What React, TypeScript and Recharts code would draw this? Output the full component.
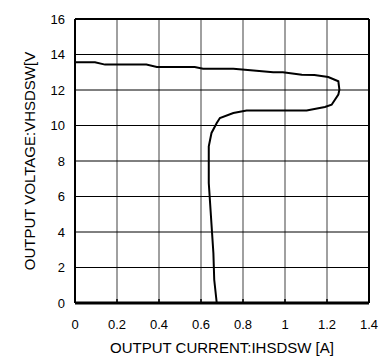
import { LineChart, Line, XAxis, YAxis, CartesianGrid, ReferenceLine } from 'recharts'

// output current [A] vs output voltage [V] in trace order
const currentA = [
  0, 0.095, 0.143, 0.34, 0.39, 0.57, 0.61, 0.754, 0.85, 0.944, 0.99, 1.08, 1.14, 1.206,
  1.254, 1.259, 1.254, 1.222, 1.19, 1.103, 0.817, 0.754, 0.69, 0.675, 0.65, 0.637, 0.637,
  0.659, 0.663, 0.675,
]
const voltageV = [
  13.56, 13.56, 13.43, 13.43, 13.3, 13.3, 13.2, 13.2, 13.1, 13.0, 13.0, 12.86, 12.85, 12.73,
  12.49, 12.02, 11.74, 11.17, 11.04, 10.84, 10.84, 10.7, 10.42, 10.14, 9.58, 8.83, 6.76,
  2.82, 1.31, 0,
]
const xTicks = [0, 0.2, 0.4, 0.6, 0.8, 1, 1.2, 1.4]
const yTicks = [0, 2, 4, 6, 8, 10, 12, 14, 16]

const data = currentA.map((x, i) => ({ x, y: voltageV[i] }))

const font = { fontFamily: 'Liberation Sans, Arial, sans-serif', fontSize: 13, fill: '#000' }

export default function App() {
  return (
    <div style={{ position: 'absolute', left: 0, top: 0 }}>
      <LineChart
        width={382}
        height={363}
        data={data}
        margin={{ top: 19, right: 13, bottom: 10, left: 25 }}
      >
        <CartesianGrid horizontal={false} stroke="#808080" strokeWidth={1.5} verticalValues={xTicks} />
        <CartesianGrid vertical={false} stroke="#000" strokeWidth={1} horizontalValues={yTicks} />
        <XAxis
          type="number"
          dataKey="x"
          domain={[0, 1.4]}
          ticks={xTicks}
          height={50}
          axisLine={{ stroke: '#000', strokeWidth: 3 }}
          tickLine={{ stroke: '#000', strokeWidth: 1.5 }}
          tickSize={-4}
          tickMargin={21}
          tick={font}
          label={{
            value: 'OUTPUT CURRENT:IHSDSW [A]',
            position: 'insideBottom',
            offset: 0,
            style: { ...font, fontSize: 15 },
          }}
        />
        <YAxis
          type="number"
          domain={[0, 16]}
          ticks={yTicks}
          width={50}
          axisLine={{ stroke: '#000', strokeWidth: 2 }}
          tickLine={false}
          tickSize={-4}
          tickMargin={14}
          tick={font}
          label={{
            value: 'OUTPUT VOLTAGE:VHSDSW[V',
            angle: -90,
            position: 'insideLeft',
            offset: 5,
            style: { ...font, fontSize: 15, textAnchor: 'middle' },
          }}
        />
        <ReferenceLine y={16} stroke="#000" strokeWidth={2} />
        <ReferenceLine x={1.4} stroke="#000" strokeWidth={2} />
        <Line
          type="linear"
          dataKey="y"
          stroke="#000"
          strokeWidth={2}
          dot={false}
          isAnimationActive={false}
        />
      </LineChart>
    </div>
  )
}
